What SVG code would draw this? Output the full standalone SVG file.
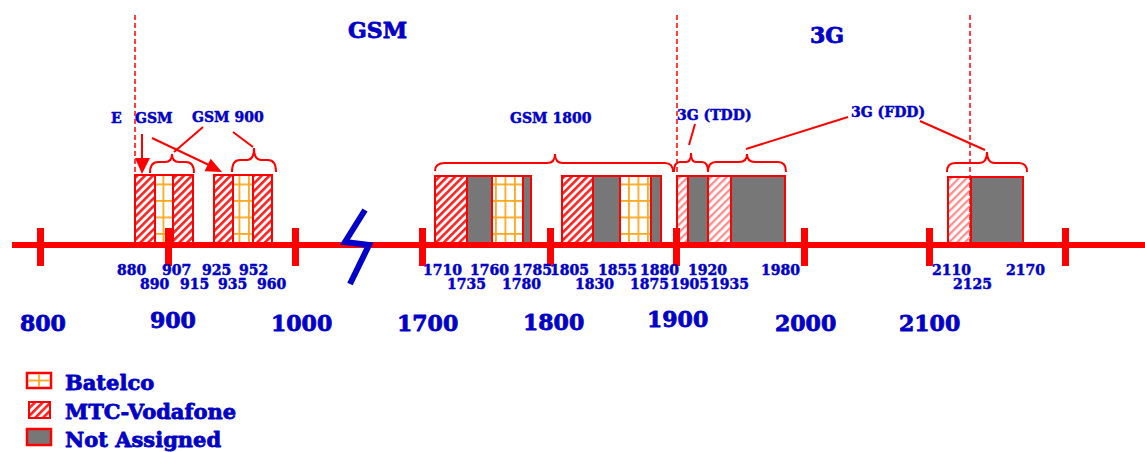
<svg xmlns="http://www.w3.org/2000/svg" width="1145" height="452" viewBox="0 0 1145 452">
<style>
text{font-family:"DejaVu Serif","Liberation Serif",serif;font-weight:bold;fill:#0000C8;stroke:#0000C8;stroke-linejoin:round}
.sm{font-size:14px;stroke-width:0.5}
.big{font-size:22px;stroke-width:0.8}
.leg{font-size:21px;stroke-width:0.8}
.cell{stroke:#FF0000;stroke-width:2}
.hatch{fill:url(#hatch)}
.lhatch{fill:url(#lhatch)}
.grid{fill:url(#grid)}
.grey{fill:#777777}
.ln{stroke:#FF0000;stroke-width:2;fill:none}
.dash{stroke:#FF0000;stroke-width:1.5;stroke-dasharray:5 3;fill:none}
.tick{fill:#FF0000}
</style>
<defs>
<pattern id="hatch" patternUnits="userSpaceOnUse" width="5.5" height="5.5" patternTransform="rotate(45)">
<rect width="5.5" height="5.5" fill="#FFFFFF"/>
<rect width="2.6" height="5.5" fill="#FF2020"/>
</pattern>
<pattern id="lhatch" patternUnits="userSpaceOnUse" width="5.5" height="5.5" patternTransform="rotate(45)">
<rect width="5.5" height="5.5" fill="#FFFFFF"/>
<rect width="2.2" height="5.5" fill="#FF8A8A"/>
</pattern>
<pattern id="grid" patternUnits="userSpaceOnUse" x="1" y="2" width="9.5" height="16.5">
<rect width="9.5" height="16.5" fill="#FFFFFF"/>
<rect x="0" y="0" width="1.8" height="16.5" fill="#FFA820"/>
<rect x="0" y="0" width="9.5" height="1.8" fill="#FFA820"/>
</pattern>
</defs>

<g id="axis">
<rect x="12" y="242" width="1133" height="6" fill="#FF0000"/>
</g>

<g id="band-gsm900-a">
<rect class="cell hatch" x="135" y="175" width="20" height="68"/>
<rect class="cell grid" x="155" y="175" width="18" height="68"/>
<rect class="cell hatch" x="173" y="175" width="20" height="68"/>
</g>
<g id="band-gsm900-b">
<rect class="cell hatch" x="214" y="175" width="19" height="68"/>
<rect class="cell grid" x="233" y="175" width="20" height="68"/>
<rect class="cell hatch" x="253" y="175" width="19" height="68"/>
</g>
<g id="band-gsm1800-a">
<rect class="cell hatch" x="435" y="176" width="32" height="67"/>
<rect class="cell grey" x="467" y="176" width="25" height="67"/>
<rect class="cell grid" x="492" y="176" width="31" height="67"/>
<rect class="cell grey" x="523" y="176" width="8" height="67"/>
</g>
<g id="band-gsm1800-b">
<rect class="cell hatch" x="562" y="176" width="31" height="67"/>
<rect class="cell grey" x="593" y="176" width="27" height="67"/>
<rect class="cell grid" x="620" y="176" width="31" height="67"/>
<rect class="cell grey" x="651" y="176" width="10" height="67"/>
</g>
<g id="band-3g">
<rect class="cell lhatch" x="677" y="176" width="11" height="67"/>
<rect class="cell grey" x="688" y="176" width="20" height="67"/>
<rect class="cell lhatch" x="708" y="176" width="23" height="67"/>
<rect class="cell grey" x="731" y="176" width="54" height="67"/>
</g>
<g id="band-2110">
<rect class="cell lhatch" x="948" y="177" width="23" height="66"/>
<rect class="cell grey" x="971" y="177" width="52" height="66"/>
</g>

<g id="ticks">
<rect class="tick" x="37" y="228" width="7" height="38"/>
<rect class="tick" x="165" y="228" width="7" height="38"/>
<rect class="tick" x="292" y="228" width="7" height="38"/>
<rect class="tick" x="419" y="228" width="7" height="38"/>
<rect class="tick" x="547" y="228" width="7" height="38"/>
<rect class="tick" x="673" y="228" width="7" height="38"/>
<rect class="tick" x="801" y="228" width="7" height="38"/>
<rect class="tick" x="926" y="228" width="7" height="38"/>
<rect class="tick" x="1062" y="228" width="7" height="38"/>
</g>

<g id="break">
<polyline points="365,210 345,242 369,245 350,284" fill="none" stroke="#0000C8" stroke-width="6" stroke-linejoin="miter"/>
</g>

<g id="dividers">
<line class="dash" x1="135" y1="15" x2="135" y2="243"/>
<line class="dash" x1="677" y1="15" x2="677" y2="243"/>
<line class="dash" x1="970" y1="15" x2="970" y2="243"/>
</g>

<g id="connectors">
<path class="ln" d="M150,173 Q150,162 158,162 L165,162 Q172,162 172,154 Q172,162 179,162 L186,162 Q194,162 194,173"/>
<path class="ln" d="M232,172 Q232,160 240,160 L247,160 Q254,160 254,148 Q254,160 261,160 L268,160 Q276,160 276,172"/>
<path class="ln" d="M435,171 Q435,163 445,163 L547,163 Q555,163 555,154 Q555,163 563,163 L665,163 Q673,163 673,172"/>
<path class="ln" d="M674,172 Q674,162 680,162 L686,162 Q691,162 691,153 Q691,162 696,162 L702,162 Q708,162 708,172"/>
<path class="ln" d="M708,172 Q708,162 716,162 L739,162 Q747,162 747,154 Q747,162 755,162 L778,162 Q786,162 786,172"/>
<path class="ln" d="M947,172 Q947,163 955,163 L979,163 Q987,163 987,152 Q987,163 995,163 L1019,163 Q1027,163 1027,172"/>
<line class="ln" x1="203" y1="127" x2="174" y2="152"/>
<line class="ln" x1="233" y1="132" x2="253" y2="147"/>
<line class="ln" x1="695" y1="124" x2="689" y2="145"/>
<line class="ln" x1="848" y1="117" x2="746" y2="149"/>
<line class="ln" x1="920" y1="121" x2="985" y2="150"/>
<line class="ln" x1="142" y1="134" x2="142" y2="160"/>
<polygon points="135,158 150,158 142,174" fill="#FF0000"/>
<line class="ln" x1="152" y1="138" x2="209" y2="165"/>
<polygon points="204.5,171.3 210.7,158.7 222,172" fill="#FF0000"/>
</g>

<g id="titles">
<text class="big" x="348" y="38">GSM</text>
<text class="big" x="810" y="43">3G</text>
<text class="sm" x="111" y="123">E <tspan x="135">GSM</tspan></text>
<text class="sm" x="192" y="122">GSM 900</text>
<text class="sm" x="510" y="123">GSM 1800</text>
<text class="sm" x="677" y="120">3G (TDD)</text>
<text class="sm" x="851" y="117">3G (FDD)</text>
</g>

<g id="freq-labels">
<text class="sm" x="117" y="275">880</text>
<text class="sm" x="162" y="275">907</text>
<text class="sm" x="202" y="275">925</text>
<text class="sm" x="239" y="275">952</text>
<text class="sm" x="423" y="275">1710</text>
<text class="sm" x="470" y="275">1760</text>
<text class="sm" x="513" y="275">1785</text>
<text class="sm" x="550" y="275">1805</text>
<text class="sm" x="598" y="275">1855</text>
<text class="sm" x="640" y="275">1880</text>
<text class="sm" x="688" y="275">1920</text>
<text class="sm" x="761" y="275">1980</text>
<text class="sm" x="932" y="275">2110</text>
<text class="sm" x="1006" y="275">2170</text>
<text class="sm" x="140" y="289">890</text>
<text class="sm" x="180" y="289">915</text>
<text class="sm" x="218" y="289">935</text>
<text class="sm" x="257" y="289">960</text>
<text class="sm" x="447" y="289">1735</text>
<text class="sm" x="502" y="289">1780</text>
<text class="sm" x="575" y="289">1830</text>
<text class="sm" x="630" y="289">1875</text>
<text class="sm" x="670" y="289">1905</text>
<text class="sm" x="710" y="289">1935</text>
<text class="sm" x="953" y="289">2125</text>
</g>

<g id="scale-labels">
<text class="big" x="20" y="331">800</text>
<text class="big" x="150" y="328">900</text>
<text class="big" x="271" y="331">1000</text>
<text class="big" x="397" y="331">1700</text>
<text class="big" x="523" y="330">1800</text>
<text class="big" x="647" y="327">1900</text>
<text class="big" x="775" y="331">2000</text>
<text class="big" x="899" y="331">2100</text>
</g>

<g id="legend">
<g id="legend-batelco">
<rect x="27" y="373" width="24" height="15" fill="#FFFFFF" stroke="#FF0000" stroke-width="2.5"/>
<line x1="39" y1="374" x2="39" y2="387" stroke="#FFA820" stroke-width="1.8"/>
<line x1="28" y1="380.5" x2="50" y2="380.5" stroke="#FFA820" stroke-width="1.8"/>
<text class="leg" x="65" y="390">Batelco</text>
</g>
<g id="legend-mtc">
<rect x="29" y="402" width="21" height="16" fill="url(#hatch)" stroke="#FF0000" stroke-width="2"/>
<text class="leg" x="65" y="419">MTC-Vodafone</text>
</g>
<g id="legend-na">
<rect x="27" y="429" width="24" height="16" fill="#777777" stroke="#FF0000" stroke-width="2.5"/>
<text class="leg" x="65" y="447">Not Assigned</text>
</g>
</g>
</svg>
